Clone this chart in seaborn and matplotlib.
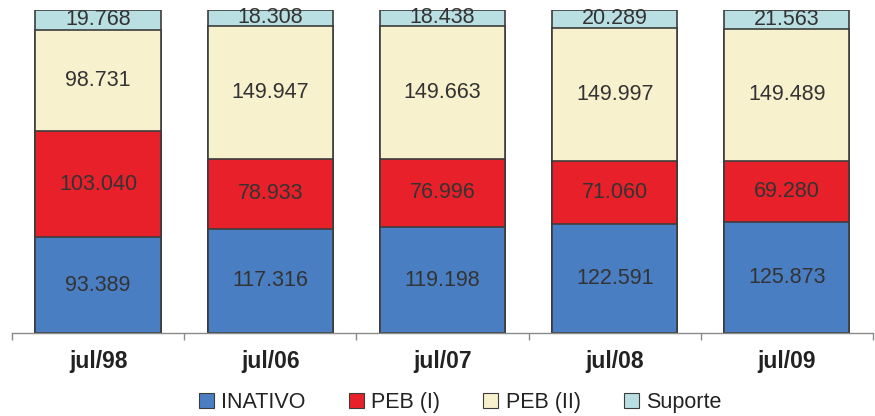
import matplotlib
matplotlib.use("Agg")
import matplotlib.pyplot as plt
from matplotlib.patches import Patch
import numpy as np
import pandas as pd
import seaborn as sns

# Staff composition by month (absolute counts, thousands-separated with '.')
periods = ["jul/98", "jul/06", "jul/07", "jul/08", "jul/09"]
series_names = ["INATIVO", "PEB (I)", "PEB (II)", "Suporte"]
inativo = [93.389, 117.316, 119.198, 122.591, 125.873]
peb_i = [103.040, 78.933, 76.996, 71.060, 69.280]
peb_ii = [98.731, 149.947, 149.663, 149.997, 149.489]
suporte = [19.768, 18.308, 18.438, 20.289, 21.563]
label_texts = {
    "INATIVO": ["93.389", "117.316", "119.198", "122.591", "125.873"],
    "PEB (I)": ["103.040", "78.933", "76.996", "71.060", "69.280"],
    "PEB (II)": ["98.731", "149.947", "149.663", "149.997", "149.489"],
    "Suporte": ["19.768", "18.308", "18.438", "20.289", "21.563"],
}
colors = {"INATIVO": "#4a7ec2", "PEB (I)": "#e8202a",
          "PEB (II)": "#f8f1cd", "Suporte": "#b9dfe2"}

values = np.array([inativo, peb_i, peb_ii, suporte])
shares = values / values.sum(axis=0) * 100
cum = np.cumsum(shares, axis=0)

sns.set_theme(style="white")
plt.rcParams["font.family"] = ["Liberation Sans", "DejaVu Sans"]

fig = plt.figure(figsize=(8.75, 4.16), dpi=100)
ax = fig.add_axes([0.0137, 0.1995, 0.984, 0.7775])

bar_w = 0.727
# Draw cumulative totals from the top layer down so each segment shows through
for i in range(len(series_names) - 1, -1, -1):
    df = pd.DataFrame({"period": periods, "cum": cum[i]})
    sns.barplot(data=df, x="period", y="cum", color=colors[series_names[i]],
                saturation=1, width=bar_w, edgecolor="#3c3c3c", linewidth=1.2,
                ax=ax, zorder=2)

# Value labels centred in each segment
for i, name in enumerate(series_names):
    base = cum[i] - shares[i]
    for j in range(len(periods)):
        ax.text(j, base[j] + shares[i][j] / 2, label_texts[name][j],
                ha="center", va="center", fontsize=15.5, color="#333333",
                zorder=5)

ax.set_xlim(-0.5, len(periods) - 0.5)
ax.set_ylim(0, 100)
ax.set_xlabel("")
ax.set_ylabel("")
ax.set_yticks([])
for side in ["left", "right", "top"]:
    ax.spines[side].set_visible(False)
ax.spines["bottom"].set_color("#8a8a8a")
ax.spines["bottom"].set_linewidth(1.0)

ax.set_xticks(range(len(periods)))
ax.set_xticklabels(periods, fontsize=16.5, fontweight="bold", color="#222222")
ax.tick_params(axis="x", which="major", length=0, pad=12)
ax.set_xticks(np.arange(-0.5, len(periods)), minor=True)
ax.tick_params(axis="x", which="minor", length=5, width=1.0,
               color="#8a8a8a", direction="out", bottom=True)

handles = [Patch(facecolor=colors[n], edgecolor="#3c3c3c", linewidth=0.8, label=n)
           for n in series_names]
fig.legend(handles=handles, loc="center", bbox_to_anchor=(0.526, 0.032),
           ncol=4, frameon=False, fontsize=15.5, handlelength=0.7,
           handleheight=0.7, handletextpad=0.35, columnspacing=2.0,
           labelcolor="#222222")

fig.savefig("out.png", dpi=100)
